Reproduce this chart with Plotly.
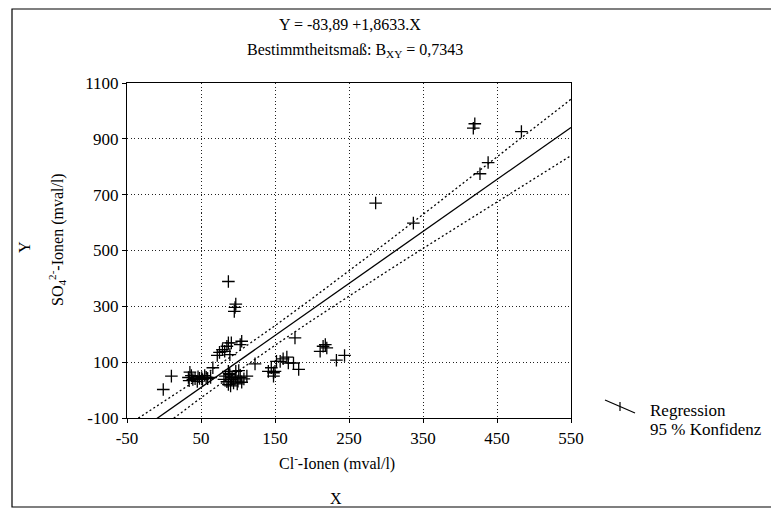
import plotly.graph_objects as go

# Measured Cl- (x) and SO4 2- (y) concentrations, mval/l
cl = [420, 418, 483, 438, 427, 286, 337,
      87, 97, 96, 95,
      105, 103, 91, 87, 85, 79, 82, 75, 72, 89, 177,
      66, 10, -1, 123, 112, 35,
      33, 37, 42, 46, 51, 55, 59, 63, 34, 39, 45, 52, 48, 57,
      87, 97, 101, 81, 91, 100, 105, 87, 94, 83, 89, 97, 85, 92, 103, 96, 90, 99, 108, 88,
      141, 145, 148, 148, 150, 152, 157, 161, 166, 168, 175, 182,
      211, 215, 220, 218, 233, 244]
so4 = [954, 938, 926, 815, 775, 670, 598,
       389, 308, 296, 282,
       175, 163, 169, 169, 157, 145, 139, 135, 124, 127, 187,
       80, 50, 2, 94, 50, 64,
       45, 52, 41, 48, 45, 52, 41, 45, 34, 38, 31, 38, 42, 46,
       67, 67, 70, 38, 38, 32, 28, 20, 26, 50, 56, 50, 30, 45, 45, 40, 15, 22, 40, 60,
       67, 80, 50, 62, 67, 103, 103, 112, 118, 97, 97, 74,
       139, 157, 151, 163, 107, 124]

# Regression Y = a + b*X
intercept = -83.89
slope = 1.8633
r2_label = "0,7343"

# 95 % confidence half-width along X
band_x = [-50, 0, 50, 100, 150, 200, 250, 300, 350, 400, 450, 500, 550]
band_hw = [50, 43, 37, 35, 35, 39, 44, 52, 61, 71, 81, 91, 101]

x_ticks = [-50, 50, 150, 250, 350, 450, 550]
y_ticks = [-100, 100, 300, 500, 700, 900, 1100]

W, H = 771, 511
L, R, T, B = 127, 571, 83, 418   # plot area in pixels
FONT = "Times New Roman, Liberation Serif, serif"


def px(x):
    return (x - L) / (R - L)


def py(y):
    return (B - y) / (B - T)


reg_y = [intercept + slope * x for x in band_x]
upper = [r + h for r, h in zip(reg_y, band_hw)]
lower = [r - h for r, h in zip(reg_y, band_hw)]

band_line = dict(color="black", width=1.3, dash="2px,2.5px")

fig = go.Figure()
fig.add_trace(go.Scatter(x=band_x, y=upper, mode="lines", line=band_line, hoverinfo="skip"))
fig.add_trace(go.Scatter(x=band_x, y=lower, mode="lines", line=band_line, hoverinfo="skip"))
fig.add_trace(go.Scatter(x=band_x, y=reg_y, mode="lines",
                         line=dict(color="black", width=1.3)))
fig.add_trace(go.Scatter(x=cl, y=so4, mode="markers",
                         marker=dict(symbol="cross-thin", size=9,
                                     line=dict(color="black", width=1.3))))

axis_common = dict(showline=True, linecolor="black", linewidth=1.2, mirror=True,
                   showgrid=True, gridcolor="#222", gridwidth=1.3, griddash="1.3px,2.2px",
                   zeroline=False, ticks="outside", ticklen=4, tickcolor="black",
                   tickfont=dict(family=FONT, size=17, color="black"))

fig.update_xaxes(range=[-50, 550], tickvals=x_ticks, ticktext=[str(v) for v in x_ticks],
                 **axis_common)
fig.update_yaxes(range=[-100, 1100], tickvals=y_ticks, ticktext=[str(v) for v in y_ticks],
                 **axis_common)

ann = [
    dict(x=px(350), y=py(24), text="Y = -83,89 +1,8633.X"),
    dict(x=px(355), y=py(51), text=f"Bestimmtheitsmaß: B<sub>XY</sub> = {r2_label}"),
    dict(x=px(337), y=py(462), text="Cl<sup>-</sup>-Ionen (mval/l)"),
    dict(x=px(336), y=py(498), text="X"),
    dict(x=px(25), y=py(247), text="Y", textangle=-90),
    dict(x=px(57), y=py(240), text="SO<sub>4</sub><sup>2-</sup>-Ionen (mval/l)", textangle=-90),
    dict(x=px(648), y=py(410), text="Regression", xanchor="left", size=17),
    dict(x=px(648), y=py(429), text="95 % Konfidenz", xanchor="left", size=17),
]
annotations = []
for a in ann:
    size = a.pop("size", 16)
    base = dict(xref="paper", yref="paper", showarrow=False,
                font=dict(family=FONT, size=size, color="black"),
                xanchor="center", yanchor="middle")
    base.update(a)
    annotations.append(base)

shapes = [
    # outer frame (right side runs past the page edge)
    dict(type="rect", xref="paper", yref="paper",
         x0=px(12), x1=px(780), y0=py(9), y1=py(507),
         line=dict(color="black", width=1.2)),
    # legend key: slanted line with a cross
    dict(type="line", xref="paper", yref="paper",
         x0=px(605), y0=py(400), x1=px(635), y1=py(413),
         line=dict(color="black", width=1.2)),
    dict(type="line", xref="paper", yref="paper",
         x0=px(620), y0=py(402), x1=px(620), y1=py(411),
         line=dict(color="black", width=1.2)),
]

fig.update_layout(width=W, height=H, showlegend=False,
                  margin=dict(l=L, r=W - R, t=T, b=H - B),
                  paper_bgcolor="white", plot_bgcolor="white",
                  annotations=annotations, shapes=shapes)

fig.write_html("out.html")
